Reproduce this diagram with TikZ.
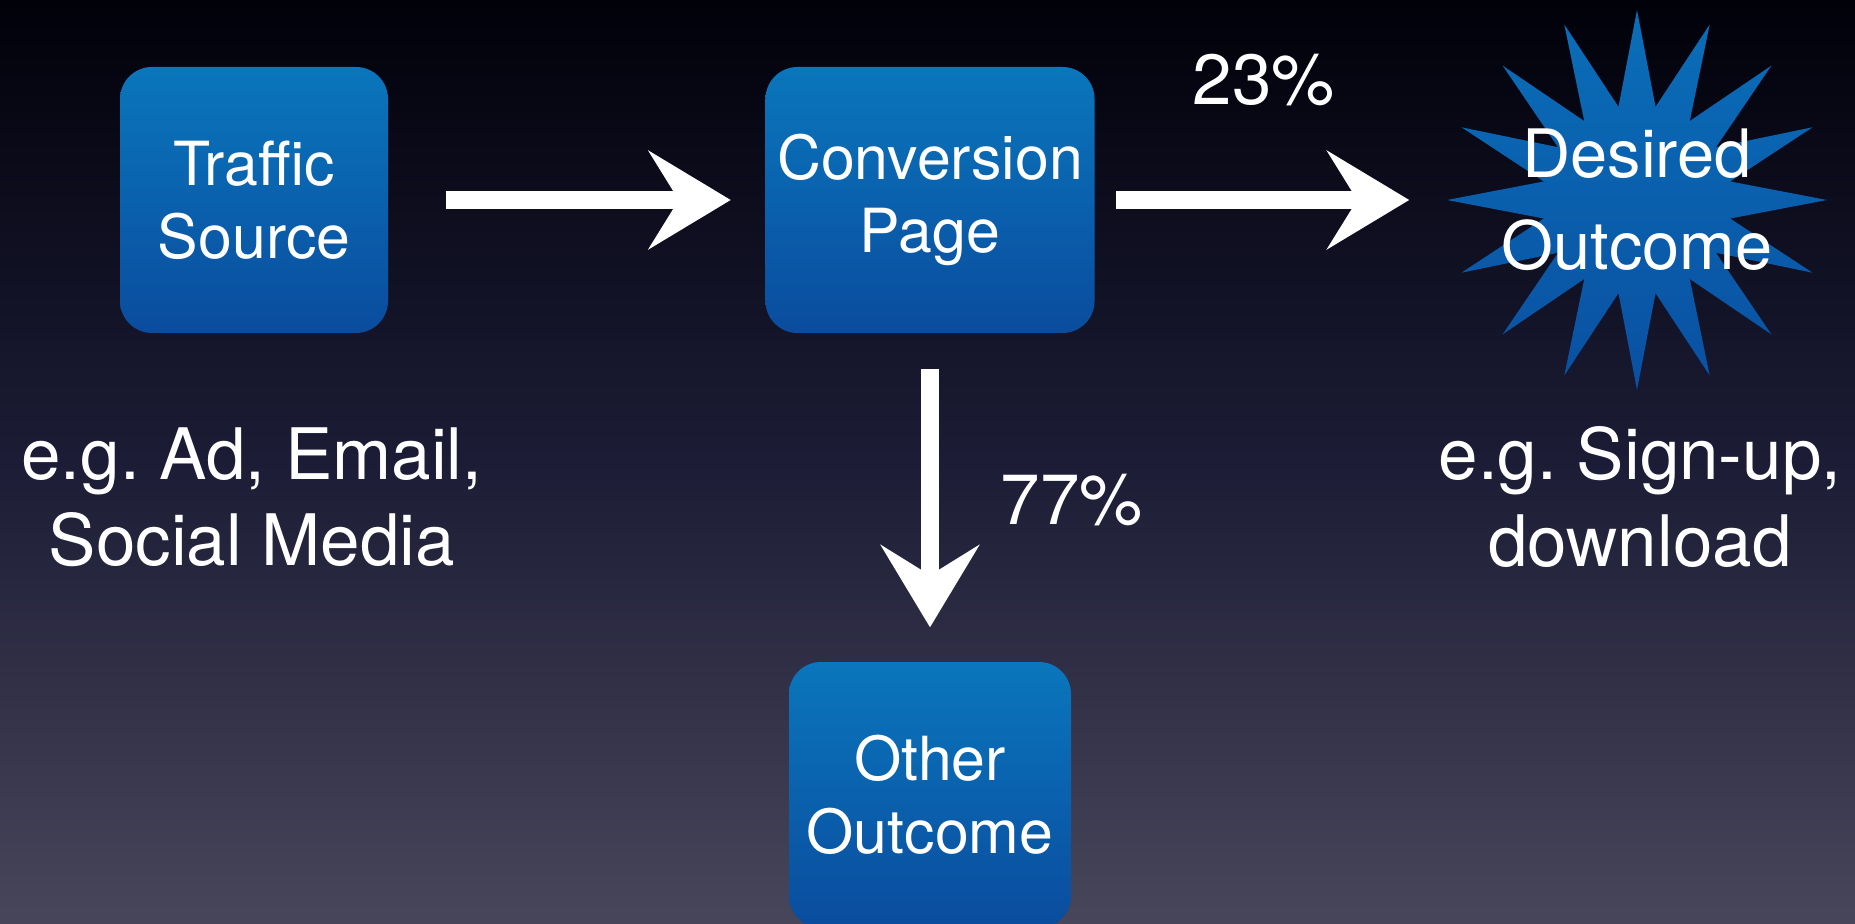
\documentclass[tikz,border=0pt]{standalone}
\usepackage{fontspec}
\setmainfont{TeX Gyre Heros}
\frenchspacing
\usepackage{tikz}
\usetikzlibrary{shapes.geometric, arrows.meta, positioning}
\definecolor{bgtop}{HTML}{01010A}
\definecolor{bgmid}{HTML}{1C1C36}
\definecolor{bgbot}{HTML}{48465A}
\definecolor{boxtop}{HTML}{0A76BC}
\definecolor{boxbot}{HTML}{0A4C9E}
\definecolor{startop}{HTML}{0A6EB8}
\definecolor{starbot}{HTML}{0A50A2}

\begin{document}
\begin{tikzpicture}
  [
    Box/.style={rectangle, rounded corners=3.2mm, top color=boxtop, bottom color=boxbot, text=white, minimum height=2.66cm, align=center, font=\fontsize{17.3}{20.8}\selectfont},
    Burst/.style={star, star points=16, star point ratio=2, minimum size=3.8cm, inner sep=0pt, top color=startop, bottom color=starbot},
    Note/.style={text=white, align=center, font=\fontsize{20.2}{24.5}\selectfont},
    Chalk/.style={line width=1.8mm, white, -{Stealth[length=8.2mm, width=9.8mm, inset=3mm]}}
  ]
  \useasboundingbox (0, 0) rectangle (18.55, -9.24);
  \fill [top color=bgtop, bottom color=bgbot, middle color=bgmid] (0, 0) rectangle (18.55, -9.24);
  % Nodes
  \node[Box, minimum width=2.68cm] (traffic) at(2.54, -2.00) {Traffic\\Source};
  \node[Box, minimum width=3.29cm] (conv) at(9.30, -2.00) {Conversion\\Page};
  \node[Box, minimum width=2.82cm] (other) at(9.30, -7.95) {Other\\Outcome};
  \node[Burst, label={[text=white, align=center, font=\fontsize{19}{26.2}\selectfont]center:Desired\\Outcome}] (desired) at(16.37, -2.00) {};
  \node[Note] (srcnote) at(2.52, -4.97) {e.g. Ad, Email,\\Social Media};
  \node[Note] (dstnote) at(16.40, -4.97) {e.g. Sign-up,\\download};
  \node[Note] (yes) at(12.64, -0.80) {23\%};
  \node[Note] (no) at(10.72, -5.00) {77\%};
  % Lines
  \path [Chalk, draw, shorten <=5.7mm, shorten >=3.4mm] (traffic) -- (conv);
  \path [Chalk, draw, shorten <=2.1mm, shorten >=3.4mm] (conv) -- (desired);
  \path [Chalk, draw, shorten <=3.5mm, shorten >=3.4mm] (conv) -- (other);
\end{tikzpicture}
\end{document}
